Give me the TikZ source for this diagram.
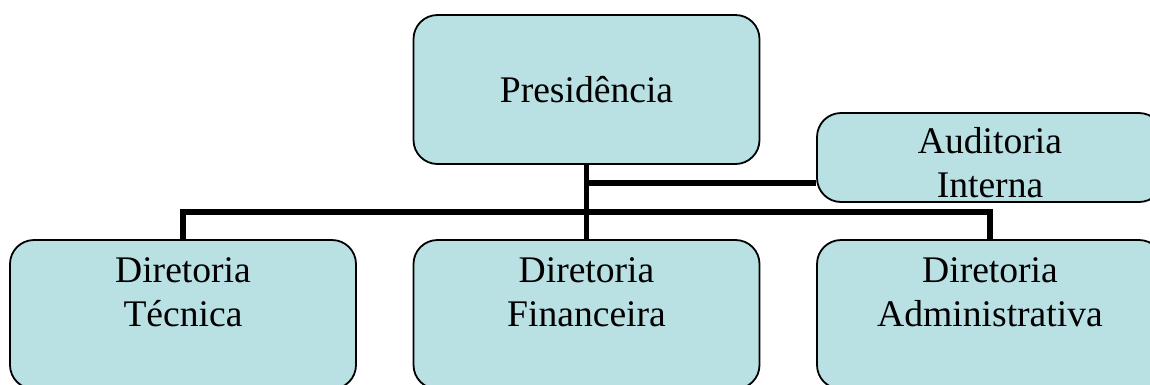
\documentclass[tikz,border=0pt]{standalone}
\usepackage{fontspec}
\setmainfont{Liberation Serif}
\definecolor{boxfill}{HTML}{B9E0E3}
\tikzset{
  unit/.style={draw=black, line width=1.8pt, fill=boxfill, rounded corners=24pt,
    minimum width=346pt, minimum height=149pt, inner sep=0pt,
    font=\fontsize{37.6}{44}\selectfont},
  unittext/.style={align=center, inner sep=0pt, anchor=north,
    font=\fontsize{37.6}{44}\selectfont},
  link/.style={line width=5.5pt}
}
\begin{document}
\begin{tikzpicture}[x=1pt, y=-1pt]
\clip (0,0) rectangle (1150,384);
% boxes
\node[unit] (pres) at (586.5,89.5) {Presidência};
\node[unit, minimum height=89pt] (aud) at (990,157.5) {};
\node[unit] (tec) at (183,314.5) {};
\node[unit] (fin) at (586.5,314.5) {};
\node[unit] (adm) at (990,314.5) {};
% texts
\node[unittext] (aud-t) at (990,127.5) {Auditoria\\Interna};
\node[unittext] (tec-t) at (183,257.3) {Diretoria\\Técnica};
\node[unittext] (fin-t) at (586.5,257.3) {Diretoria\\Financeira};
\node[unittext] (adm-t) at (990,257.3) {Diretoria\\Administrativa};
% links
\coordinate (aud-j) at (586.5,183);
\coordinate (bus) at (586.5,212);
\draw[link] (pres.south) -- (fin.north);
\draw[link] (aud-j) -- (aud.west |- aud-j);
\draw[link] (tec.north) |- (bus) -| (adm.north);
\end{tikzpicture}
\end{document}
